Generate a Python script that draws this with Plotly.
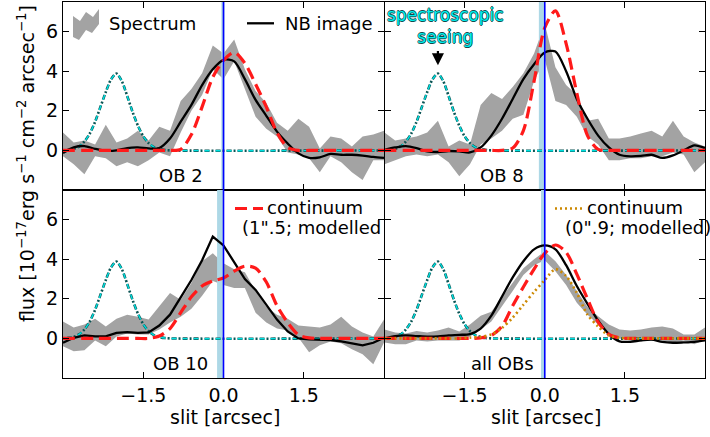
import plotly.graph_objects as go

# ---------------- data ----------------
x_grid = [-3.0, -2.8, -2.6, -2.4, -2.2, -2.0, -1.8, -1.6, -1.4, -1.2, -1.0,
          -0.8, -0.6, -0.4, -0.2, 0.0, 0.2, 0.4, 0.6, 0.8, 1.0,
          1.2, 1.4, 1.6, 1.8, 2.0, 2.2, 2.4, 2.6, 2.8, 3.0]

# spectroscopic seeing profile
x_seeing = [-3.0, -2.9, -2.8, -2.7, -2.6, -2.5, -2.4, -2.3, -2.2, -2.1, -2.0,
            -1.9, -1.8, -1.7, -1.6, -1.5, -1.4, -1.3, -1.2, -1.1, -1.0, 3.0]
y_seeing = [0.0, 0.03, 0.08, 0.2, 0.45, 0.85, 1.45, 2.2, 2.95, 3.6, 3.88,
            3.5, 2.75, 1.95, 1.25, 0.72, 0.37, 0.17, 0.07, 0.02, 0.0, 0.0]

panel_labels = ["OB 2", "OB 8", "OB 10", "all OBs"]

# OB 2
spec_lo_ob2 = [-0.3, -0.7, -1.2, -0.3, -0.4, -0.8, -0.6, -0.8, -0.5, -0.1, -0.3, 0.9, 2.0, 2.8, 4.1, 3.6,
               4.5, 3.1, 1.7, 1.1, 0.7, -0.1, -0.2, -0.4, -1.1, -0.3, -0.6, -1.1, -1.5, -0.5, -0.5]
spec_hi_ob2 = [0.9, 0.4, 0.5, 0.3, 1.3, 0.4, 0.6, 1.0, 0.5, 1.2, 1.0, 2.5, 3.1, 3.9, 5.3, 4.9,
               5.6, 4.1, 3.0, 2.4, 1.4, 1.0, 1.6, 1.2, 0.1, 0.7, 0.6, 0.2, 0.7, 0.8, 1.0]
nb_ob2 = [-0.13, 0.15, 0.22, 0.08, -0.02, 0.0, 0.12, 0.15, 0.1, 0.12, 0.6, 1.45, 2.3, 3.3, 4.1, 4.58,
          4.5, 3.6, 2.55, 1.75, 0.95, 0.35, -0.15, -0.38, -0.35, -0.18, -0.22, -0.22, -0.26, -0.33, -0.38]
cont_ob2 = [0, 0, 0, 0, 0, 0, 0, 0, 0, 0, 0, 0.05, 0.8, 2.2, 3.7, 4.55,
            4.95, 4.4, 3.35, 2.2, 0.9, 0.15, 0, 0, 0, 0, 0, 0, 0, 0, 0]

# OB 8
spec_lo_ob8 = [-0.7, -0.5, -0.3, -0.2, -0.3, -0.2, -0.6, -1.3, -0.7, 0.3, 0.6, 1.0, 1.6, 1.8, 3.5, 4.6,
               2.5, 2.3, 1.7, 0.7, 0.3, -0.5, -0.5, -0.4, -0.4, -0.3, -0.3, -0.1, -0.2, -1.1, -0.6]
spec_hi_ob8 = [0.9, 0.5, 0.6, 0.7, 0.9, 1.5, 0.2, 0.5, 0.3, 2.3, 2.9, 2.6, 3.2, 3.9, 4.9, 6.4,
               4.2, 3.3, 2.8, 1.5, 1.6, 0.6, 0.6, 0.7, 0.85, 1.0, 0.7, 1.5, 0.7, 0.4, 0.2]
nb_ob8 = [0.03, 0.15, 0.22, 0.12, -0.05, -0.08, -0.03, -0.05, -0.1, 0.15, 0.75, 1.6, 2.6, 3.6, 4.35, 4.95,
          5.0, 4.0, 2.6, 1.6, 0.75, 0.15, -0.22, -0.3, -0.28, -0.22, -0.38, -0.25, 0.0, 0.25, 0.12]
cont_ob8 = [0, 0, 0, 0, 0, 0, 0, 0, 0, 0, 0, 0, 0.12, 1.0, 3.5, 6.2,
            7.05, 5.4, 2.9, 0.75, 0.05, 0, 0, 0, 0, 0, 0, 0, 0, 0, 0]

# OB 10
spec_lo_ob10 = [-0.4, -0.65, -0.6, -0.1, -0.4, 0.1, 0.25, 0.2, 0.2, 0.45, 0.8, 1.1, 1.5, 2.15, 2.9, 2.7,
                2.55, 2.55, 1.3, 0.8, 0.5, 0.4, 0.05, -0.7, -0.35, -0.15, -0.25, -0.55, -0.8, -1.3, -0.2]
spec_hi_ob10 = [0.85, 0.55, 0.7, 1.0, 0.6, 1.0, 1.2, 1.1, 0.95, 1.6, 2.3, 1.95, 2.8, 3.9, 4.3, 3.8,
                3.5, 3.35, 2.4, 1.6, 1.2, 1.0, 0.65, 0.6, 0.55, 0.7, 1.1, 0.6, 0.3, 0.1, 0.95]
nb_ob10 = [-0.22, 0.03, 0.15, 0.1, 0.1, 0.28, 0.32, 0.28, 0.3, 0.65, 1.2, 2.05, 2.95, 3.95, 5.15, 4.7,
           3.85, 3.0, 2.45, 1.7, 0.95, 0.35, 0.0, -0.05, -0.05, -0.08, -0.15, -0.25, -0.35, -0.22, 0.03]
cont_ob10 = [0, 0, 0, 0, 0, 0, 0, 0, 0, 0.12, 0.5, 1.3, 2.1, 2.65, 2.9, 3.05,
             3.4, 3.65, 3.55, 2.85, 1.65, 0.8, 0.18, 0.03, 0, 0, 0, 0, 0, 0, 0]

# all OBs
spec_lo_all = [-0.2, -0.3, -0.3, -0.1, -0.15, -0.1, -0.1, -0.1, 0.1, 0.45, 0.85, 1.6, 2.4, 3.2, 3.7, 3.95,
               3.4, 2.7, 1.8, 1.2, 0.7, 0.2, 0.0, -0.1, -0.15, -0.1, -0.1, -0.2, -0.1, -0.3, -0.05]
spec_hi_all = [0.45, 0.3, 0.25, 0.38, 0.3, 0.4, 0.55, 0.35, 0.7, 1.15, 1.35, 2.1, 2.85, 3.55, 4.0, 4.4,
               3.9, 3.2, 2.4, 1.6, 1.12, 0.7, 0.45, 0.4, 0.45, 0.55, 0.6, 0.5, 0.2, 0.2, 0.55]
nb_all = [0.0, 0.12, 0.15, 0.12, 0.09, 0.1, 0.15, 0.18, 0.22, 0.5, 1.15, 2.12, 3.08, 3.9, 4.5, 4.7,
          4.5, 3.7, 2.65, 1.75, 0.9, 0.22, -0.15, -0.17, -0.1, -0.06, -0.18, -0.22, -0.2, -0.17, -0.1]
cont_all = [0, 0, 0, 0, 0, 0, 0, 0, 0, 0.03, 0.15, 0.62, 1.65, 2.6, 3.5, 4.3,
            4.72, 4.35, 3.25, 2.0, 0.82, 0.2, 0.03, 0, 0, 0, 0, 0, 0, 0, 0]
cont09_all = [0, 0, 0, 0, 0, 0, 0, 0, 0.04, 0.08, 0.2, 0.53, 1.05, 1.7, 2.35, 2.95,
              3.5, 3.15, 2.3, 1.2, 0.6, 0.15, 0.03, 0, 0, 0, 0, 0, 0, 0, 0]

# light-blue offset bands and the slit-centre line
band_lo = [-0.04, -0.11, -0.12, -0.07]
band_hi = [0.02, 0.01, 0.0, 0.01]
centre_x = [0.0, 0.0, 0.0, 0.0]

X_RANGE = [-3, 3]
Y_RANGE = [-2, 7.5]

# ---------------- figure ----------------
W, H = 710, 437
FONT = "DejaVu Sans"
GRAY = "#a3a3a3"
RED = "#ff1a1a"
ORANGE = "#cc8800"
TEAL_DARK = "#0b5454"
CYAN = "#00e0e0"


def px(x):
    return x / W


def py(y):
    return 1 - y / H


fig = go.Figure()

panels = [
    (spec_lo_ob2, spec_hi_ob2, nb_ob2, cont_ob2, None, "spline"),
    (spec_lo_ob8, spec_hi_ob8, nb_ob8, cont_ob8, None, "spline"),
    (spec_lo_ob10, spec_hi_ob10, nb_ob10, cont_ob10, None, "linear"),
    (spec_lo_all, spec_hi_all, nb_all, cont_all, cont09_all, "spline"),
]

for i, (lo, hi, nb, cont, cont09, nbshape) in enumerate(panels):
    n = "" if i == 0 else str(i + 1)
    xa, ya = "x" + n, "y" + n
    # spectrum band
    fig.add_trace(go.Scatter(x=x_grid + x_grid[::-1], y=hi + lo[::-1], fill="toself",
                             fillcolor=GRAY, line=dict(width=0, color=GRAY), mode="lines",
                             xaxis=xa, yaxis=ya, hoverinfo="skip"))
    # offset band
    fig.add_trace(go.Scatter(x=[band_lo[i], band_hi[i], band_hi[i], band_lo[i]],
                             y=[Y_RANGE[0], Y_RANGE[0], Y_RANGE[1], Y_RANGE[1]],
                             fill="toself", fillcolor="#add8e6", mode="lines",
                             line=dict(width=0, color="#add8e6"), xaxis=xa, yaxis=ya,
                             hoverinfo="skip"))
    # seeing profile
    fig.add_trace(go.Scatter(x=x_seeing, y=y_seeing, mode="lines",
                             line=dict(color=TEAL_DARK, width=2.6, dash="2px,2px,5px,2px",
                                       shape="spline", smoothing=0.8),
                             xaxis=xa, yaxis=ya))
    fig.add_trace(go.Scatter(x=x_seeing, y=y_seeing, mode="lines",
                             line=dict(color=CYAN, width=1.4, dash="0px,4px,5px,2px",
                                       shape="spline", smoothing=0.8),
                             xaxis=xa, yaxis=ya))
    # NB image
    fig.add_trace(go.Scatter(x=x_grid, y=nb, mode="lines",
                             line=dict(color="black", width=2.3, shape=nbshape, smoothing=0.8),
                             xaxis=xa, yaxis=ya))
    # continuum
    fig.add_trace(go.Scatter(x=x_grid, y=cont, mode="lines",
                             line=dict(color=RED, width=3.2, dash="12px,6px", shape="spline",
                                       smoothing=0.8),
                             xaxis=xa, yaxis=ya))
    if cont09 is not None:
        fig.add_trace(go.Scatter(x=x_grid, y=cont09, mode="lines",
                                 line=dict(color=ORANGE, width=2.6, dash="2px,3px", shape="spline",
                                           smoothing=0.8),
                                 xaxis=xa, yaxis=ya))

# axes
left_dom = [px(63), px(384)]
right_dom = [px(384.5), px(705)]
top_dom = [py(190), py(2)]
bot_dom = [py(378), py(190)]

common = dict(showgrid=False, zeroline=False, showline=True, linecolor="black", linewidth=1.3,
              mirror="ticks", ticks="inside", ticklen=6, tickwidth=1.2, tickcolor="black",
              tickfont=dict(family=FONT, size=19, color="black"))

layout_axes = {}
doms = [(left_dom, top_dom), (right_dom, top_dom), (left_dom, bot_dom), (right_dom, bot_dom)]
for i, (xd, yd) in enumerate(doms):
    n = "" if i == 0 else str(i + 1)
    layout_axes["xaxis" + n] = dict(common, domain=xd, anchor="y" + n, range=X_RANGE,
                                    tickvals=[-1.5, 0.0, 1.5], tickformat=".1f",
                                    showticklabels=(i >= 2))
    layout_axes["yaxis" + n] = dict(common, domain=yd, anchor="x" + n, range=Y_RANGE,
                                    tickvals=[0, 2, 4, 6], showticklabels=(i % 2 == 0))

fig.update_layout(**layout_axes)

shapes = []
annotations = []
for i in range(4):
    n = "" if i == 0 else str(i + 1)
    shapes.append(dict(type="line", xref="x" + n, yref="y" + n + " domain", x0=centre_x[i],
                       x1=centre_x[i], y0=0, y1=1, line=dict(color="#0000ff", width=1.6),
                       layer="above"))
    annotations.append(dict(x=-0.8, y=-1.27, xref="x" + n, yref="y" + n, text=panel_labels[i],
                            showarrow=False, xanchor="center", yanchor="middle",
                            font=dict(family=FONT, size=18, color="black")))

# legend: Spectrum patch
patch = [(73, 37), (79, 40), (86, 30), (92, 33), (99, 24), (99, 9), (93, 17), (86, 12), (80, 21),
         (73, 16)]
path = "M " + " L ".join(f"{px(a):.5f},{py(b):.5f}" for a, b in patch) + " Z"
shapes.append(dict(type="path", xref="paper", yref="paper", path=path, fillcolor=GRAY,
                   line=dict(width=0), layer="above"))
annotations.append(dict(x=px(107), y=py(23.5), xref="paper", yref="paper", text="Spectrum",
                        showarrow=False, xanchor="left", yanchor="middle",
                        font=dict(family=FONT, size=18, color="black")))
# NB image
shapes.append(dict(type="line", xref="paper", yref="paper", x0=px(247), x1=px(274), y0=py(23.3),
                   y1=py(23.3), line=dict(color="black", width=2.3), layer="above"))
annotations.append(dict(x=px(283), y=py(23.5), xref="paper", yref="paper", text="NB image",
                        showarrow=False, xanchor="left", yanchor="middle",
                        font=dict(family=FONT, size=18, color="black")))
# continuum (1".5)
shapes.append(dict(type="line", xref="paper", yref="paper", x0=px(235), x1=px(263), y0=py(208.5),
                   y1=py(208.5), line=dict(color=RED, width=3.2, dash="12px,6px"), layer="above"))
annotations.append(dict(x=px(265), y=py(207.5), xref="paper", yref="paper", text="continuum",
                        showarrow=False, xanchor="left", yanchor="middle",
                        font=dict(family=FONT, size=18, color="black")))
annotations.append(dict(x=px(240), y=py(227), xref="paper", yref="paper",
                        text="(1\".5; modelled", showarrow=False, xanchor="left",
                        yanchor="middle", font=dict(family=FONT, size=18, color="black")))
# continuum (0".9)
shapes.append(dict(type="line", xref="paper", yref="paper", x0=px(555), x1=px(583), y0=py(208.5),
                   y1=py(208.5), line=dict(color=ORANGE, width=2.6, dash="2px,3px"), layer="above"))
annotations.append(dict(x=px(585), y=py(207.5), xref="paper", yref="paper", text="continuum",
                        showarrow=False, xanchor="left", yanchor="middle",
                        font=dict(family=FONT, size=18, color="black")))
annotations.append(dict(x=px(562.5), y=py(227), xref="paper", yref="paper",
                        text="(0\".9; modelled)", showarrow=False, xanchor="left",
                        yanchor="middle", font=dict(family=FONT, size=18, color="black")))

# spectroscopic seeing label + arrow
outline = "#124a4a"
shadow = (f"0.7px 0px 0px {outline}, -0.7px 0px 0px {outline}, "
          f"0px 0.7px 0px {outline}, 0px -0.7px 0px {outline}")
annotations.append(dict(x=-1.85, y=6.3, xref="x2", yref="y2", text="spectroscopic<br>seeing",
                        showarrow=False, xanchor="center", yanchor="middle", align="center",
                        font=dict(family=FONT, size=17, color="#00f0f0", shadow=shadow)))
annotations.append(dict(x=-2.0, y=4.3, xref="x2", yref="y2", ax=-2.0, ay=5.1, axref="x2",
                        ayref="y2", text="", showarrow=True, arrowhead=2, arrowsize=1.1,
                        arrowwidth=2.2, arrowcolor="black"))

# axis labels
annotations.append(dict(x=px(26), y=py(164), xref="paper", yref="paper", textangle=-90,
                        text="flux [10<sup>\u221217</sup>erg s<sup>\u22121</sup> cm<sup>\u22122</sup>"
                             " arcsec<sup>\u22121</sup>]",
                        showarrow=False, xanchor="center", yanchor="middle",
                        font=dict(family=FONT, size=19, color="black")))
for cx in (224.5, 545.5):
    annotations.append(dict(x=px(cx), y=py(417), xref="paper", yref="paper", text="slit [arcsec]",
                            showarrow=False, xanchor="center", yanchor="middle",
                            font=dict(family=FONT, size=19, color="black")))

fig.update_layout(width=W, height=H, margin=dict(l=0, r=0, t=0, b=0), showlegend=False,
                  paper_bgcolor="white", plot_bgcolor="white", shapes=shapes,
                  annotations=annotations, font=dict(family=FONT))

fig.write_html("out.html")
